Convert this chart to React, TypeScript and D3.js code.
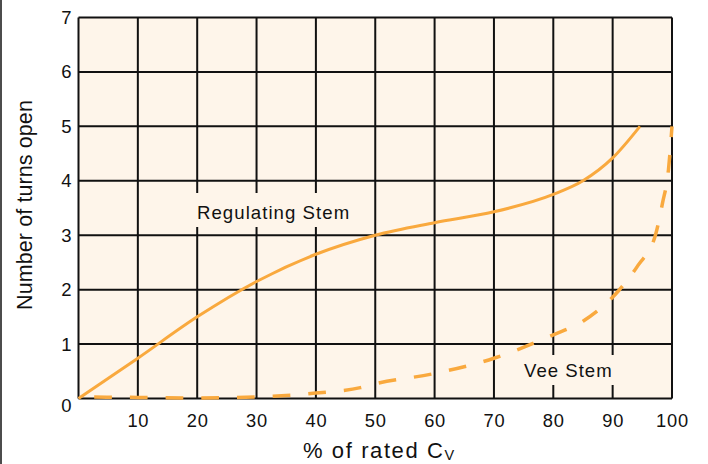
import React from "react";
import * as d3 from "d3";

const xTicks = [10, 20, 30, 40, 50, 60, 70, 80, 90, 100];
const yTicks = [0, 1, 2, 3, 4, 5, 6, 7];

const regulatingX = [0, 10, 20, 30, 40, 50, 60, 70, 80, 85, 90, 94.6];
const regulatingY = [0, 0.74, 1.5, 2.15, 2.65, 3.0, 3.23, 3.43, 3.75, 4.0, 4.42, 5.0];

const veeX = [0, 10, 20, 30, 40, 47.5, 50, 60, 70, 80, 85, 88, 91, 94.3, 97.2, 98.4, 99.4, 100];
const veeY = [0.03, 0.02, 0.01, 0.03, 0.1, 0.2, 0.27, 0.46, 0.74, 1.17, 1.42, 1.66, 1.98, 2.45, 3.0, 3.59, 4.2, 5.0];

const W = 708;
const H = 464;
const FONT = "'Liberation Sans', Arial, Helvetica, sans-serif";
const ORANGE = "#F9A93E";
const BG = "#FEF5EA";

export default function App() {
  const x = d3.scaleLinear().domain([0, 100]).range([78.5, 672]);
  const y = d3.scaleLinear().domain([0, 7]).range([398.5, 17.5]);

  const line = d3
    .line<[number, number]>()
    .x((d) => x(d[0]))
    .y((d) => y(d[1]))
    .curve(d3.curveMonotoneX);

  const regPts = regulatingX.map((v, i) => [v, regulatingY[i]] as [number, number]);
  const veePts = veeX.map((v, i) => [v, veeY[i]] as [number, number]);

  const gridX = [0, ...xTicks];

  return (
    <svg
      width={W}
      height={H}
      style={{ position: "absolute", left: 0, top: 0, background: "#fff" }}
      fontFamily={FONT}
    >
      <line x1={1} x2={1} y1={0} y2={H} stroke="#111" strokeWidth={1.5} />
      <rect
        x={x(0)}
        y={y(7)}
        width={x(100) - x(0)}
        height={y(0) - y(7)}
        fill={BG}
      />
      {gridX.map((t) => (
        <line
          key={"gx" + t}
          x1={x(t)}
          x2={x(t)}
          y1={y(0)}
          y2={y(7)}
          stroke="#111"
          strokeWidth={2}
        />
      ))}
      {yTicks.map((t) => (
        <line
          key={"gy" + t}
          x1={x(0)}
          x2={x(100)}
          y1={y(t)}
          y2={y(t)}
          stroke="#111"
          strokeWidth={2}
        />
      ))}
      {/* label backgrounds breaking the grid */}
      <rect x={190} y={193} width={168} height={34} fill={BG} />
      <rect x={516} y={355} width={104} height={30} fill={BG} />

      <path d={line(regPts) || ""} fill="none" stroke={ORANGE} strokeWidth={3} />
      <path
        d={line(veePts) || ""}
        fill="none"
        stroke={ORANGE}
        strokeWidth={3.5}
        strokeDasharray="17.7,18"
        strokeDashoffset={20}
      />

      <text x={197} y={218.5} fontSize={18.6} letterSpacing={1.05} fill="#111">
        Regulating Stem
      </text>
      <text x={524} y={376.5} fontSize={18.6} letterSpacing={1} fill="#111">
        Vee Stem
      </text>

      {yTicks.map((t) => (
        <text
          key={"yt" + t}
          x={71.5}
          y={t === 0 ? y(t) + 7 : y(t)}
          fontSize={18.5}
          textAnchor="end"
          dominantBaseline="central"
          fill="#111"
        >
          {t}
        </text>
      ))}
      {xTicks.map((t) => (
        <text
          key={"xt" + t}
          x={x(t) + 0.5}
          y={427}
          fontSize={18.3}
          letterSpacing={0.8}
          textAnchor="middle"
          fill="#111"
        >
          {t}
        </text>
      ))}

      <text
        transform={`translate(31.5,205) rotate(-90)`}
        fontSize={21.5}
        letterSpacing={0.1}
        textAnchor="middle"
        fill="#111"
      >
        Number of turns open
      </text>
      <text x={303} y={457.5} fontSize={22} letterSpacing={1.6} fill="#111">
        % of rated C
        <tspan fontSize={14.5} dy={2.5} letterSpacing={0}>V</tspan>
      </text>
    </svg>
  );
}
